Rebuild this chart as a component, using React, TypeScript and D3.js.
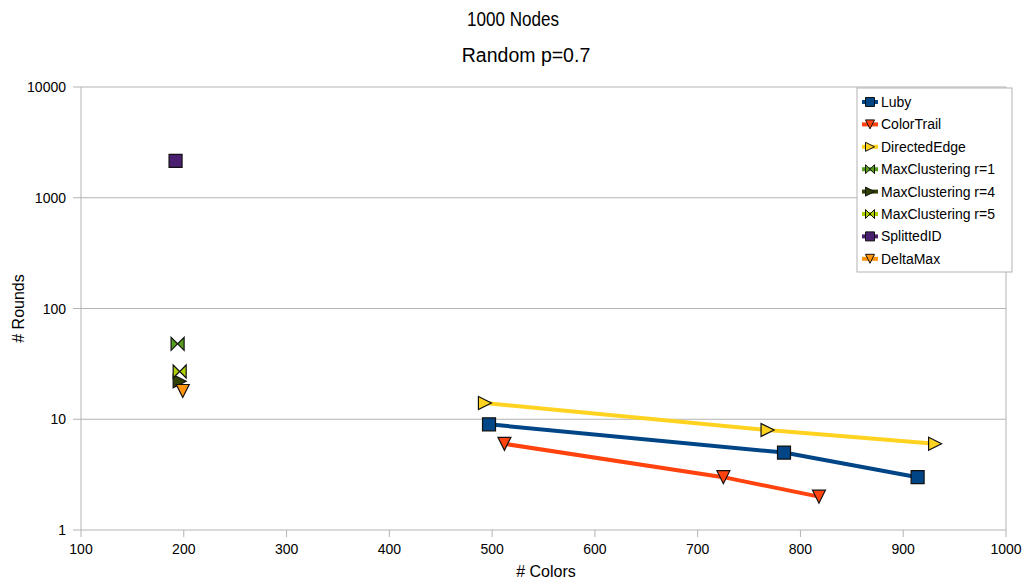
import React from "react";
import * as d3 from "d3";

// Series values: [# colors, # rounds]
const luby: [number, number][] = [[497, 9], [784, 5], [914, 3]];
const colorTrail: [number, number][] = [[512, 6], [725, 3], [818, 2]];
const directedEdge: [number, number][] = [[493, 14], [768, 8], [931, 6]];
const maxClustering1: [number, number][] = [[194, 48]];
const maxClustering4: [number, number][] = [[196, 22]];
const maxClustering5: [number, number][] = [[196, 27]];
const splittedID: [number, number][] = [[192, 2150]];
const deltaMax: [number, number][] = [[199, 18]];

const xTicks = [100, 200, 300, 400, 500, 600, 700, 800, 900, 1000];
const yTicks = [1, 10, 100, 1000, 10000];

type Shape = "square" | "down" | "right" | "bowtie";

const series: { name: string; color: string; shape: Shape; data: [number, number][] }[] = [
  { name: "Luby", color: "#004586", shape: "square", data: luby },
  { name: "ColorTrail", color: "#ff420e", shape: "down", data: colorTrail },
  { name: "DirectedEdge", color: "#ffd320", shape: "right", data: directedEdge },
  { name: "MaxClustering r=1", color: "#579d1c", shape: "bowtie", data: maxClustering1 },
  { name: "MaxClustering r=4", color: "#314004", shape: "right", data: maxClustering4 },
  { name: "MaxClustering r=5", color: "#aecf00", shape: "bowtie", data: maxClustering5 },
  { name: "SplittedID", color: "#4b1f6f", shape: "square", data: splittedID },
  { name: "DeltaMax", color: "#ff950e", shape: "down", data: deltaMax },
];

const W = 1028;
const H = 582;
const left = 81;
const right = 1006;
const top = 87;
const bottom = 530;
const FONT = "'Liberation Sans', Arial, sans-serif";

function markerPath(shape: Shape, cx: number, cy: number, s: number): string {
  const h = s / 2;
  switch (shape) {
    case "square":
      return `M${cx - h},${cy - h}H${cx + h}V${cy + h}H${cx - h}Z`;
    case "down":
      return `M${cx - h},${cy - h}L${cx + h},${cy - h}L${cx},${cy + h}Z`;
    case "right":
      return `M${cx - h},${cy - h}L${cx + h},${cy}L${cx - h},${cy + h}Z`;
    case "bowtie":
      return `M${cx - h},${cy - h}L${cx},${cy}L${cx - h},${cy + h}Z M${cx + h},${cy - h}L${cx},${cy}L${cx + h},${cy + h}Z`;
  }
}

export default function App() {
  const x = d3.scaleLinear().domain([100, 1000]).range([left, right]);
  const y = d3.scaleLog().domain([1, 10000]).range([bottom, top]);
  const line = d3
    .line<[number, number]>()
    .x((d) => x(d[0]))
    .y((d) => y(d[1]));

  const legendX = 857;
  const legendY = 88;
  const rowH = 22.4;

  return (
    <svg
      width={W}
      height={H}
      style={{ position: "absolute", left: 0, top: 0, background: "#fff" }}
      fontFamily={FONT}
    >
      <rect x={0} y={0} width={W} height={H} fill="#fff" />
      <text
        x={513}
        y={26}
        textAnchor="middle"
        fontSize={20}
        textLength={92}
        lengthAdjust="spacingAndGlyphs"
        fill="#000"
      >
        1000 Nodes
      </text>
      <text x={526} y={62} textAnchor="middle" fontSize={19.5} fill="#000">
        Random p=0.7
      </text>

      {/* horizontal grid */}
      {yTicks.map((t) => (
        <line key={"g" + t} x1={left} x2={right} y1={y(t)} y2={y(t)} stroke="#b3b3b3" strokeWidth={1} />
      ))}
      {/* axes */}
      <line x1={left} x2={left} y1={top} y2={bottom} stroke="#b3b3b3" />
      <line x1={right} x2={right} y1={top} y2={bottom} stroke="#b3b3b3" />
      {yTicks.map((t) => (
        <g key={"y" + t}>
          <line x1={left - 8} x2={left} y1={y(t)} y2={y(t)} stroke="#b3b3b3" />
          <text x={66} y={y(t) + 5} textAnchor="end" fontSize={14} fill="#000">
            {t}
          </text>
        </g>
      ))}
      {xTicks.map((t) => (
        <g key={"x" + t}>
          <line x1={x(t)} x2={x(t)} y1={bottom} y2={bottom + 7} stroke="#b3b3b3" />
          <text x={x(t)} y={554} textAnchor="middle" fontSize={14} fill="#000">
            {t}
          </text>
        </g>
      ))}
      <text x={546} y={577} textAnchor="middle" fontSize={16} fill="#000">
        # Colors
      </text>
      <text
        transform={`translate(24,${(top + bottom) / 2}) rotate(-90)`}
        textAnchor="middle"
        fontSize={16}
        fill="#000"
      >
        # Rounds
      </text>

      {/* series */}
      {series.map((s) => (
        <g key={s.name}>
          {s.data.length > 1 && (
            <path d={line(s.data) || ""} fill="none" stroke={s.color} strokeWidth={4} />
          )}
          {s.data.map((d, i) => (
            <path
              key={i}
              d={markerPath(s.shape, x(d[0]), y(d[1]), 13)}
              fill={s.color}
              stroke="#111"
              strokeWidth={1.2}
              strokeLinejoin="miter"
            />
          ))}
        </g>
      ))}

      {/* legend */}
      <rect x={legendX} y={legendY} width={155} height={184} fill="#fff" stroke="#b3b3b3" />
      {series.map((s, i) => {
        const cy = legendY + 14 + i * rowH;
        return (
          <g key={"l" + s.name}>
            <line x1={862} x2={878} y1={cy} y2={cy} stroke={s.color} strokeWidth={4} />
            <path d={markerPath(s.shape, 870, cy, 9)} fill={s.color} stroke="#111" strokeWidth={1} />
            <text x={881} y={cy + 5} fontSize={14} fill="#000">
              {s.name}
            </text>
          </g>
        );
      })}
    </svg>
  );
}
